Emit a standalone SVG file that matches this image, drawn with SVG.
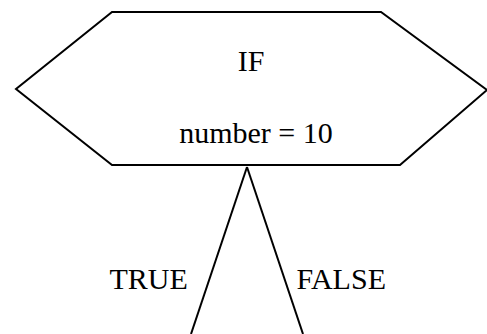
<svg xmlns="http://www.w3.org/2000/svg" width="487" height="334" viewBox="0 0 487 334">
<style>
.shape{fill:#fff;stroke:#000;stroke-width:2;stroke-linejoin:miter}
.conn{fill:none;stroke:#000;stroke-width:2}
text{font-family:"Liberation Serif","Times New Roman",serif;font-size:30px;fill:#000}
</style>
<rect width="487" height="334" fill="#fff"/>
<g id="decision">
<polygon class="shape" points="112,12 381,12 487,90 400,165 112,165 16,89"/>
<text x="251" y="71" text-anchor="middle">IF</text>
<text x="256" y="142.5" text-anchor="middle">number = 10</text>
</g>
<g id="connectors">
<path class="conn" d="M247,167 L191,334"/>
<path class="conn" d="M247,167 L303,334"/>
<text x="109.5" y="288.5">TRUE</text>
<text x="296.5" y="288.5">FALSE</text>
</g>
</svg>
